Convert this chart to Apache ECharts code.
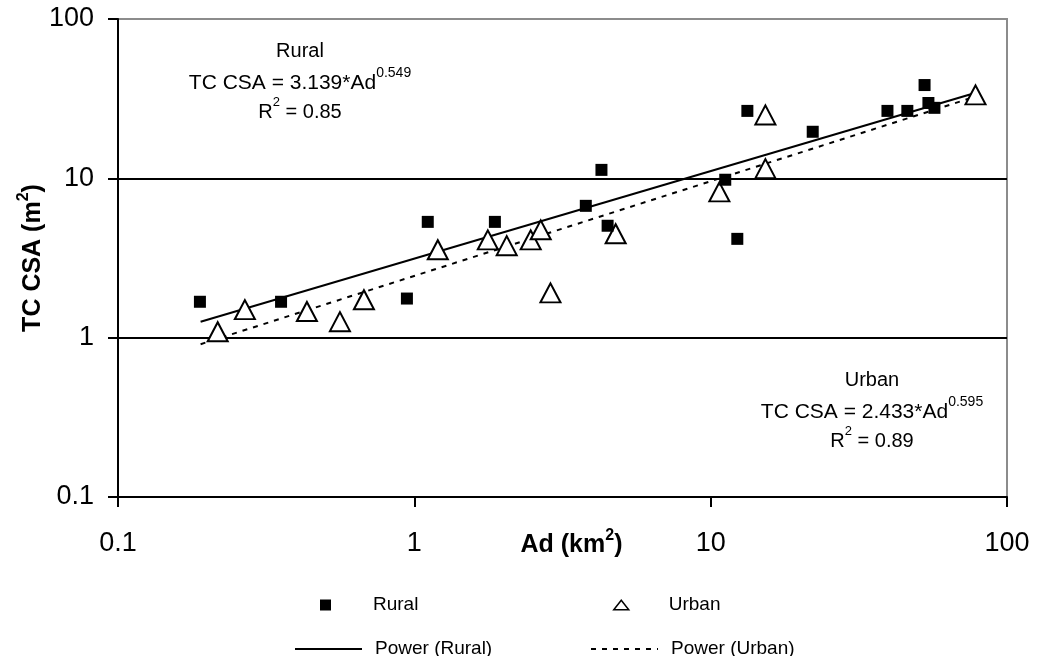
<!DOCTYPE html>
<html>
<head>
<meta charset="utf-8">
<script src="https://cdn.jsdelivr.net/npm/echarts@6/dist/echarts.min.js"></script>
<style>
  html, body { margin: 0; padding: 0; background: #fff; }
  #chart { width: 1038px; height: 656px; }
</style>
</head>
<body>
<div id="chart"></div>
<script>
// TC CSA vs drainage area, log-log, rural / urban with power fits

var ruralAd  = [0.189, 0.355, 0.944, 1.11, 1.87, 3.79, 4.28, 4.49, 11.2, 12.3, 13.3, 22.1, 39.5, 46.1, 52.7, 54.3, 56.9];
var ruralCsa = [1.68, 1.68, 1.76, 5.33, 5.33, 6.72, 11.3, 5.04, 9.8, 4.17, 26.5, 19.6, 26.5, 26.5, 38.5, 29.7, 27.7];

var urbanAd  = [0.217, 0.268, 0.434, 0.561, 0.676, 1.20, 1.77, 2.05, 2.47, 2.67, 2.88, 4.78, 10.7, 15.3, 15.3, 78.3];
var urbanCsa = [1.09, 1.50, 1.46, 1.26, 1.73, 3.56, 4.11, 3.78, 4.11, 4.75, 1.91, 4.49, 8.22, 11.5, 25.0, 33.4];

// trend line end points (straight on log-log)
var fitAd       = [0.19, 78];
var ruralFitCsa = [1.26, 34.3];
var urbanFitCsa = [0.91, 32.5];

var xTicks = [0.1, 1, 10, 100];
var yTicks = [0.1, 1, 10, 100];

var FONT = 'Liberation Sans, Arial, sans-serif';

function pairs(xs, ys) {
    var out = [];
    xs.forEach(function (x, i) { out.push([x, ys[i]]); });
    return out;
}

function supRich(size, supSize) {
    return {
        a: { fontFamily: FONT, fontSize: size, fill: '#000', color: '#000', lineHeight: size + 6, verticalAlign: 'bottom' },
        b: { fontFamily: FONT, fontSize: supSize, fill: '#000', color: '#000', verticalAlign: 'top' }
    };
}

var chart = echarts.init(document.getElementById('chart'));

var option = {
    animation: false,
    backgroundColor: '#fff',
    textStyle: { fontFamily: FONT, color: '#000' },
    grid: {
        left: 118, right: 31, top: 19, bottom: 159,
        show: true, borderColor: '#8c8c8c', borderWidth: 2
    },
    xAxis: {
        type: 'log', logBase: 10, min: xTicks[0], max: xTicks[xTicks.length - 1],
        name: '{a|Ad (km}{b|2}{a|)}',
        nameLocation: 'middle', nameGap: 31, nameMoveOverlap: false,
        nameTextStyle: {
            padding: [0, 0, 0, 18],
            rich: {
                a: { fontFamily: FONT, fontSize: 25, fontWeight: 'bold', color: '#000', lineHeight: 30, verticalAlign: 'bottom' },
                b: { fontFamily: FONT, fontSize: 16, fontWeight: 'bold', color: '#000', verticalAlign: 'top' }
            }
        },
        axisLine: { lineStyle: { color: '#000', width: 2 } },
        axisTick: { length: 10, lineStyle: { color: '#000', width: 2 } },
        axisLabel: { fontSize: 27, color: '#000', fontFamily: FONT, margin: 33 },
        splitLine: { show: false },
        minorTick: { show: false }
    },
    yAxis: {
        type: 'log', logBase: 10, min: yTicks[0], max: yTicks[yTicks.length - 1],
        name: '{a|TC CSA (m}{b|2}{a|)}',
        nameLocation: 'middle', nameGap: 72, nameRotate: 90, nameMoveOverlap: false,
        nameTextStyle: {
            rich: {
                a: { fontFamily: FONT, fontSize: 25, fontWeight: 'bold', color: '#000', lineHeight: 30, verticalAlign: 'bottom' },
                b: { fontFamily: FONT, fontSize: 16, fontWeight: 'bold', color: '#000', verticalAlign: 'top' }
            }
        },
        axisLine: { show: true, lineStyle: { color: '#000', width: 2 } },
        axisTick: { show: true, length: 10, lineStyle: { color: '#000', width: 2 } },
        axisLabel: { fontSize: 27, color: '#000', fontFamily: FONT, margin: 24 },
        splitLine: { show: true, showMinLine: false, showMaxLine: false, lineStyle: { color: '#000', width: 2 } },
        minorTick: { show: false }
    },
    legend: [
        {
            left: 315, top: 590, itemWidth: 15, itemHeight: 11, itemGap: 10,
            symbolKeepAspect: true,
            textStyle: { fontSize: 19, fontFamily: FONT, color: '#000', width: 230, lineHeight: 20, padding: [0, 0, 0, 35] },
            data: [
                { name: 'Rural', icon: 'path://M0,0H10V10H0Z' },
                { name: 'Urban', icon: 'path://M7,0L14,9L0,9Z', itemStyle: { color: '#fff', borderColor: '#000', borderWidth: 1.5 } }
            ]
        },
        {
            left: 289, top: 634, itemWidth: 67, itemHeight: 11, itemGap: 10,
            textStyle: { fontSize: 19, fontFamily: FONT, color: '#000', width: 205, lineHeight: 20, padding: [0, 0, 0, 8] },
            itemStyle: { color: 'transparent', borderWidth: 0, opacity: 0 },
            data: ['Power (Rural)', 'Power (Urban)']
        }
    ],
    graphic: [
        { type: 'text', x: 300, y: 51, style: { text: 'Rural', font: '20px ' + FONT, fill: '#000', align: 'center', verticalAlign: 'middle' } },
        { type: 'text', x: 300, y: 80, style: {
            text: '{a|TC CSA = 3.139*Ad}{b|0.549}', align: 'center', verticalAlign: 'middle',
            rich: supRich(21, 14) } },
        { type: 'text', x: 300, y: 109, style: {
            text: '{a|R}{b|2}{a| = 0.85}', align: 'center', verticalAlign: 'middle',
            rich: supRich(20, 13) } },
        { type: 'text', x: 872, y: 380, style: { text: 'Urban', font: '20px ' + FONT, fill: '#000', align: 'center', verticalAlign: 'middle' } },
        { type: 'text', x: 872, y: 409, style: {
            text: '{a|TC CSA = 2.433*Ad}{b|0.595}', align: 'center', verticalAlign: 'middle',
            rich: supRich(21, 14) } },
        { type: 'text', x: 872, y: 438, style: {
            text: '{a|R}{b|2}{a| = 0.89}', align: 'center', verticalAlign: 'middle',
            rich: supRich(20, 13) } }
    ],
    series: [
        {
            name: 'Power (Rural)', type: 'line', symbol: 'none', z: 2,
            data: pairs(fitAd, ruralFitCsa),
            lineStyle: { color: '#000', width: 2, type: 'solid' },
            itemStyle: { color: '#000' }
        },
        {
            name: 'Power (Urban)', type: 'line', symbol: 'none', z: 2,
            data: pairs(fitAd, urbanFitCsa),
            lineStyle: { color: '#000', width: 2, type: [5, 6] },
            itemStyle: { color: '#000' }
        },
        {
            name: 'Urban', type: 'scatter', symbol: 'triangle', symbolSize: [20, 19], z: 3,
            data: pairs(urbanAd, urbanCsa),
            itemStyle: { color: '#fff', borderColor: '#000', borderWidth: 2, opacity: 1 }
        },
        {
            name: 'Rural', type: 'scatter', symbol: 'rect', symbolSize: 12, z: 4,
            data: pairs(ruralAd, ruralCsa),
            itemStyle: { color: '#000', opacity: 1 }
        }
    ]
};

chart.setOption(option);
</script>
</body>
</html>
